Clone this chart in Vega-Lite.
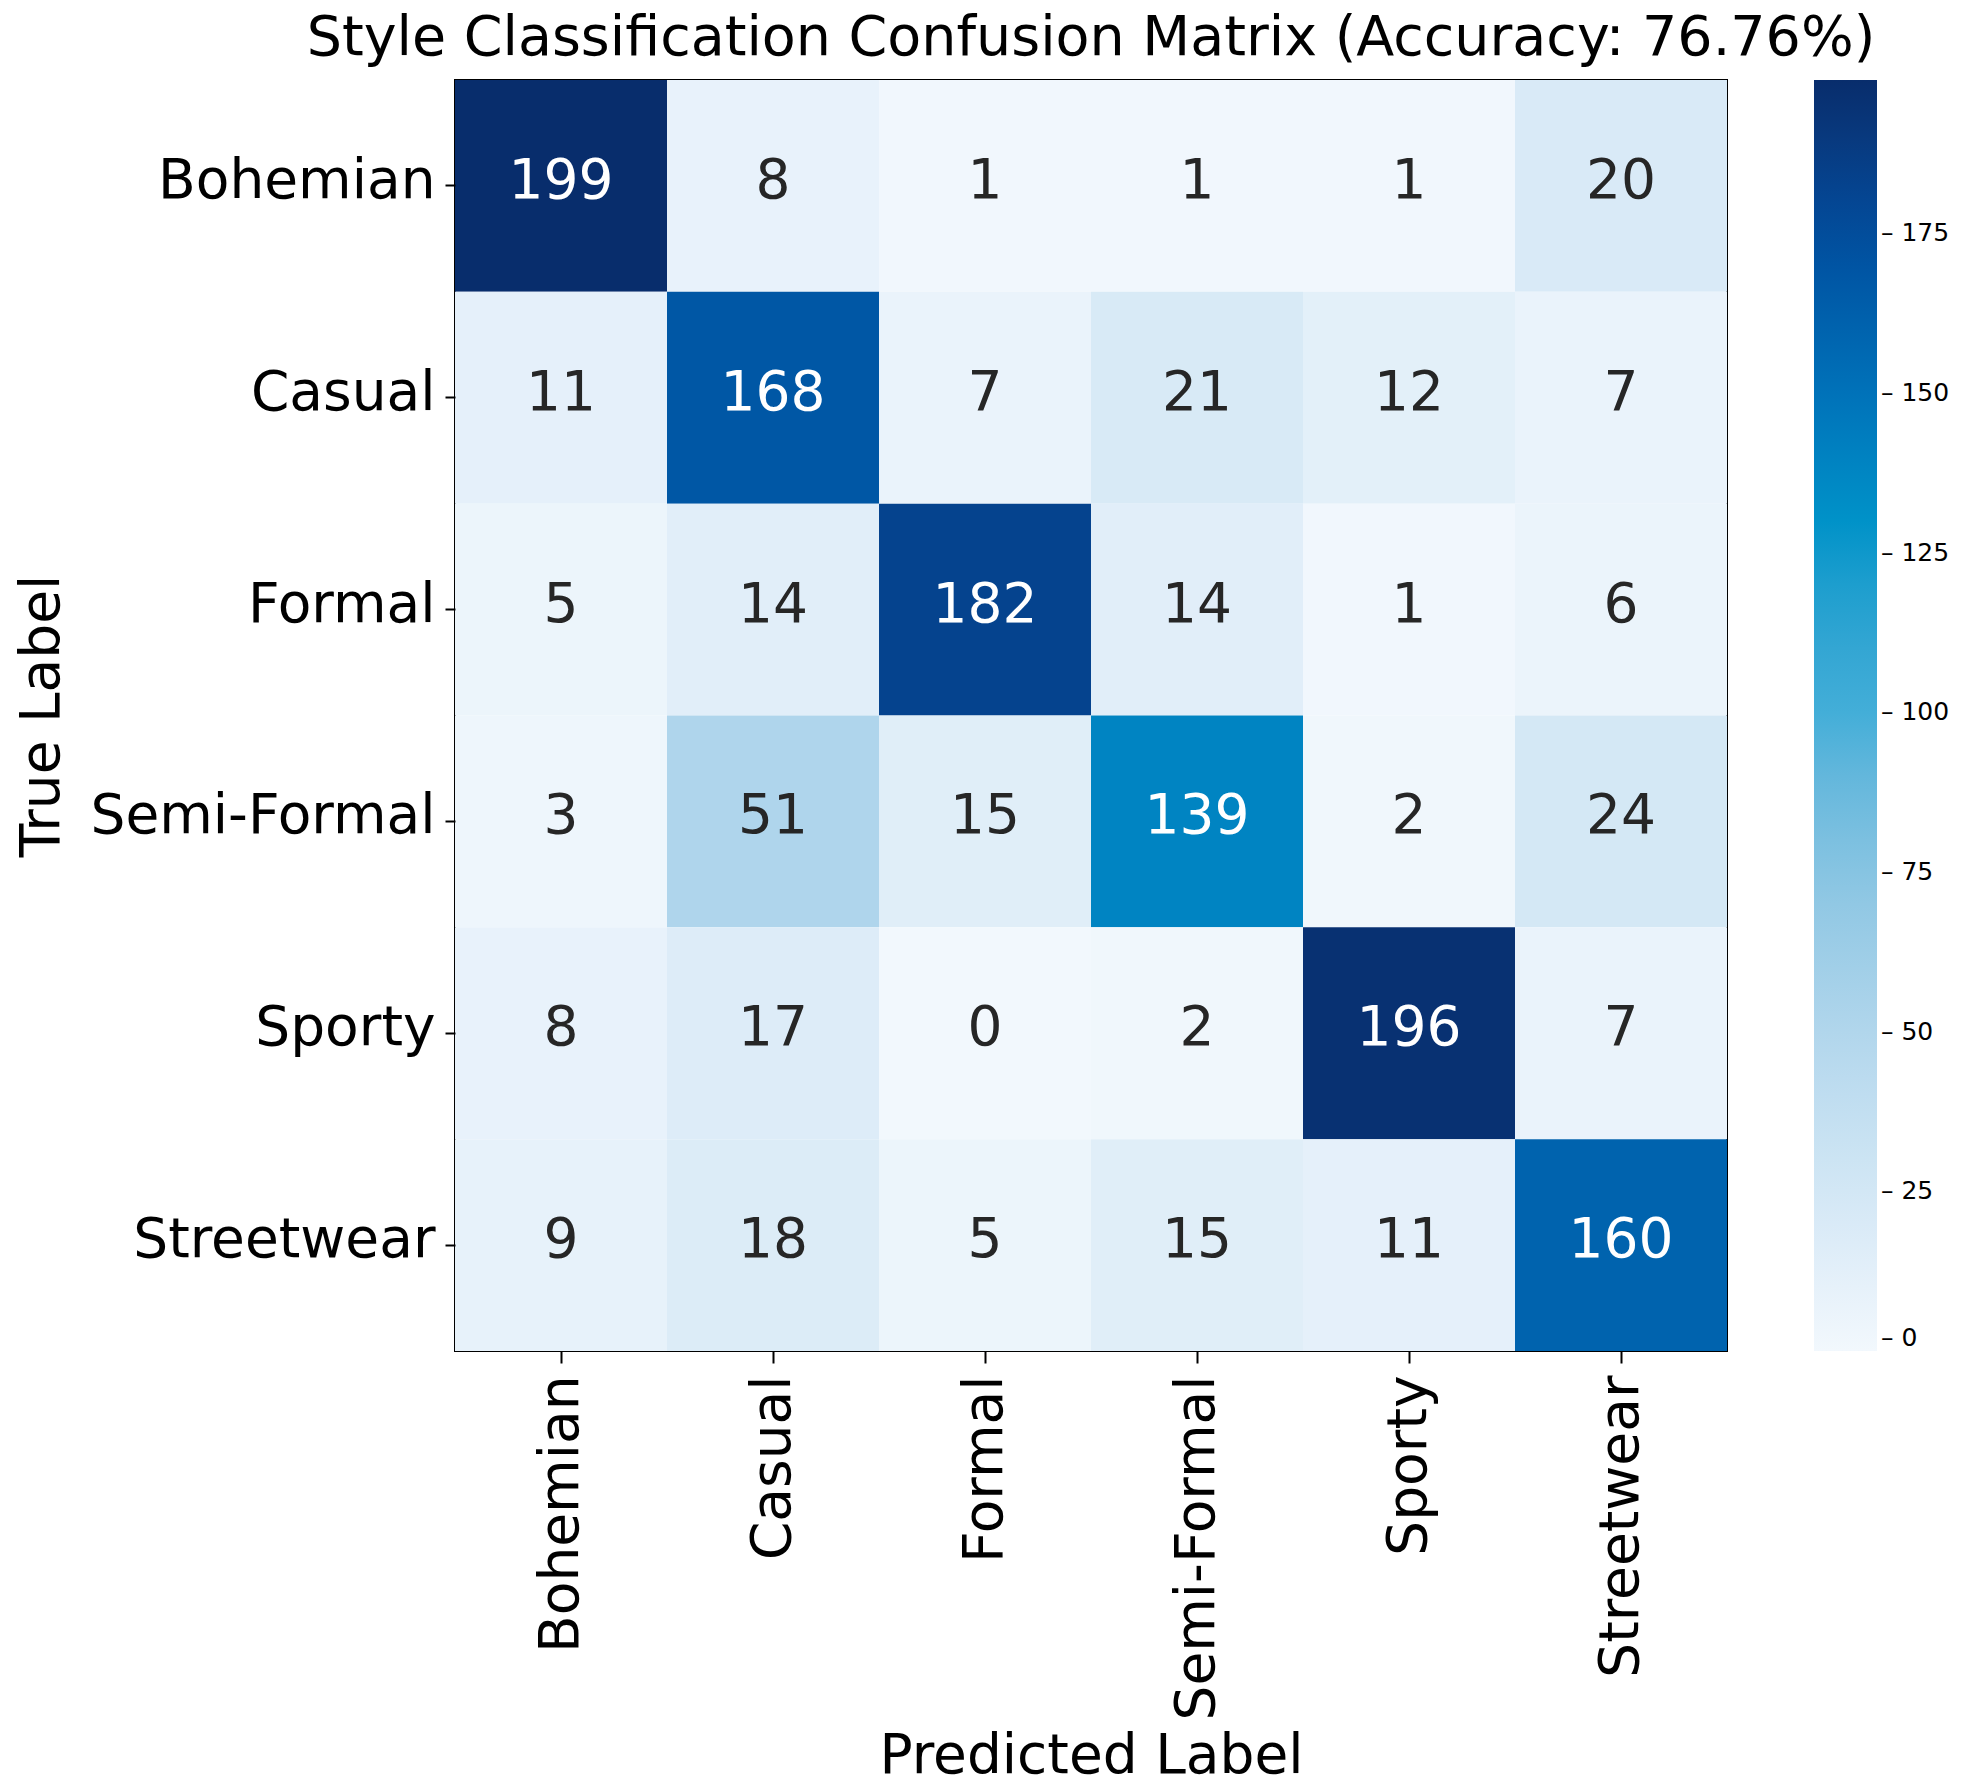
{
  "$schema": "https://vega.github.io/schema/vega-lite/v6.json",
  "width": 1272,
  "height": 1271,
  "padding": {"left": 14, "top": 10, "right": 2, "bottom": 5},
  "background": "white",
  "view": {"stroke": "black", "strokeWidth": 2},
  "title": {
    "text": "Style Classification Confusion Matrix (Accuracy: 76.76%)",
    "font": "DejaVu Sans",
    "fontSize": 55.5,
    "fontWeight": "normal",
    "color": "black",
    "anchor": "middle",
    "offset": 14
  },
  "config": {
    "font": "DejaVu Sans"
  },
  "data": {
    "values": [
      {"true": "Bohemian", "pred": "Bohemian", "count": 199},
      {"true": "Bohemian", "pred": "Casual", "count": 8},
      {"true": "Bohemian", "pred": "Formal", "count": 1},
      {"true": "Bohemian", "pred": "Semi-Formal", "count": 1},
      {"true": "Bohemian", "pred": "Sporty", "count": 1},
      {"true": "Bohemian", "pred": "Streetwear", "count": 20},
      {"true": "Casual", "pred": "Bohemian", "count": 11},
      {"true": "Casual", "pred": "Casual", "count": 168},
      {"true": "Casual", "pred": "Formal", "count": 7},
      {"true": "Casual", "pred": "Semi-Formal", "count": 21},
      {"true": "Casual", "pred": "Sporty", "count": 12},
      {"true": "Casual", "pred": "Streetwear", "count": 7},
      {"true": "Formal", "pred": "Bohemian", "count": 5},
      {"true": "Formal", "pred": "Casual", "count": 14},
      {"true": "Formal", "pred": "Formal", "count": 182},
      {"true": "Formal", "pred": "Semi-Formal", "count": 14},
      {"true": "Formal", "pred": "Sporty", "count": 1},
      {"true": "Formal", "pred": "Streetwear", "count": 6},
      {"true": "Semi-Formal", "pred": "Bohemian", "count": 3},
      {"true": "Semi-Formal", "pred": "Casual", "count": 51},
      {"true": "Semi-Formal", "pred": "Formal", "count": 15},
      {"true": "Semi-Formal", "pred": "Semi-Formal", "count": 139},
      {"true": "Semi-Formal", "pred": "Sporty", "count": 2},
      {"true": "Semi-Formal", "pred": "Streetwear", "count": 24},
      {"true": "Sporty", "pred": "Bohemian", "count": 8},
      {"true": "Sporty", "pred": "Casual", "count": 17},
      {"true": "Sporty", "pred": "Formal", "count": 0},
      {"true": "Sporty", "pred": "Semi-Formal", "count": 2},
      {"true": "Sporty", "pred": "Sporty", "count": 196},
      {"true": "Sporty", "pred": "Streetwear", "count": 7},
      {"true": "Streetwear", "pred": "Bohemian", "count": 9},
      {"true": "Streetwear", "pred": "Casual", "count": 18},
      {"true": "Streetwear", "pred": "Formal", "count": 5},
      {"true": "Streetwear", "pred": "Semi-Formal", "count": 15},
      {"true": "Streetwear", "pred": "Sporty", "count": 11},
      {"true": "Streetwear", "pred": "Streetwear", "count": 160}
    ]
  },
  "encoding": {
    "x": {
      "field": "pred",
      "type": "nominal",
      "sort": ["Bohemian", "Casual", "Formal", "Semi-Formal", "Sporty", "Streetwear"],
      "scale": {"paddingInner": 0, "paddingOuter": 0},
      "axis": {
        "title": "Predicted Label",
        "titleFontSize": 55,
        "titleFontWeight": "normal",
        "titleColor": "black",
        "titleY": 404,
        "titleBaseline": "middle",
        "labelAngle": -90,
        "labelAlign": "right",
        "labelBaseline": "middle",
        "labelFontSize": 55,
        "labelColor": "black",
        "labelPadding": 12,
        "labelLimit": 600,
        "tickSize": 12,
        "tickWidth": 2,
        "tickColor": "black",
        "domain": false,
        "grid": false
      }
    },
    "y": {
      "field": "true",
      "type": "nominal",
      "sort": ["Bohemian", "Casual", "Formal", "Semi-Formal", "Sporty", "Streetwear"],
      "scale": {"paddingInner": 0, "paddingOuter": 0},
      "axis": {
        "title": "True Label",
        "titleFontSize": 55,
        "titleFontWeight": "normal",
        "titleColor": "black",
        "titleX": -414,
        "titleBaseline": "middle",
        "labelFontSize": 55,
        "labelColor": "black",
        "labelPadding": 10,
        "labelLimit": 600,
        "labelOffset": -5,
        "tickSize": 10,
        "tickWidth": 2,
        "tickColor": "black",
        "domain": false,
        "grid": false
      }
    }
  },
  "layer": [
    {
      "mark": {"type": "rect"},
      "encoding": {
        "color": {
          "field": "count",
          "type": "quantitative",
          "scale": {
            "domain": [0, 25, 50, 75, 100, 125, 150, 175, 199],
            "range": ["#f2f8fd", "#d3e7f5", "#b1d6ec", "#88c5e2", "#43aed8", "#0a9acb", "#0072b9", "#004d9d", "#082d6c"]
          },
          "legend": {
            "title": null,
            "orient": "right",
            "offset": 87,
            "gradientLength": 1271,
            "gradientThickness": 63,
            "gradientStrokeWidth": 0,
            "values": [0, 25, 50, 75, 100, 125, 150, 175],
            "labelFontSize": 25,
            "labelColor": "black",
            "labelOffset": 4,
            "labelExpr": "'– ' + datum.label"
          }
        }
      }
    },
    {
      "mark": {"type": "text", "fontSize": 55, "font": "DejaVu Sans", "baseline": "middle", "align": "center", "dy": -5},
      "encoding": {
        "text": {"field": "count", "type": "quantitative"},
        "color": {
          "condition": {"test": "datum.count > 99.5", "value": "white"},
          "value": "#262626"
        }
      }
    }
  ]
}
